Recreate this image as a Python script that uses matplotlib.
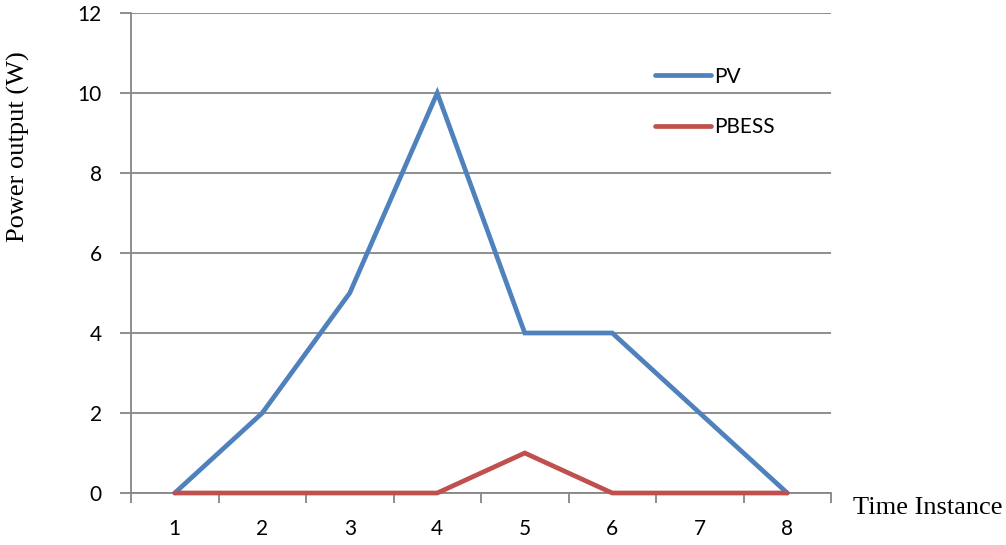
import matplotlib.pyplot as plt
import numpy as np

# 数据：时间点与功率输出
time_instances = [1, 2, 3, 4, 5, 6, 7, 8]
pv_power = [0, 2, 5, 10, 4, 4, 2, 0]
pbess_power = [0, 0, 0, 0, 1, 0, 0, 0]
y_ticks = [0, 2, 4, 6, 8, 10, 12]

grid_color = '#868686'
tick_font = 'Lato'
serif_font = 'Liberation Serif'

fig = plt.figure(figsize=(10.06, 5.45), dpi=100)
W, H = 1006, 545
ax = fig.add_axes([131 / W, 1 - 493 / H, 700 / W, 480 / H])

ax.plot(time_instances, pv_power, color='#4F81BD', linewidth=3.4,
        solid_capstyle='round', solid_joinstyle='miter', label='PV',
        zorder=4, clip_on=False)
ax.plot(time_instances, pbess_power, color='#C0504D', linewidth=3.4,
        solid_capstyle='round', solid_joinstyle='miter', label='PBESS',
        zorder=5, clip_on=False)

ax.set_xlim(0.5, 8.5)
ax.set_ylim(0, 12)

# 横轴：刻度线在类别之间，标签在类别中心
ax.set_xticks(np.arange(0.5, 9.0, 1.0))
ax.set_xticklabels([])
ax.set_xticks(time_instances, minor=True)
ax.set_xticklabels([str(t) for t in time_instances], minor=True,
                   fontsize=15, family=tick_font)
ax.tick_params(axis='x', which='major', direction='out', length=7,
               width=1.3, color=grid_color)
ax.tick_params(axis='x', which='minor', length=0, pad=19)

ax.set_yticks(y_ticks)
ax.set_yticklabels([str(v) for v in y_ticks], fontsize=15, family=tick_font)
ax.tick_params(axis='y', direction='out', length=8, width=1.3,
               color=grid_color, pad=13)

ax.yaxis.grid(True, color=grid_color, linewidth=1.3)
ax.set_axisbelow(True)

for side in ['top', 'right']:
    ax.spines[side].set_visible(False)
for side in ['left', 'bottom']:
    ax.spines[side].set_color(grid_color)
    ax.spines[side].set_linewidth(1.3)

ax.legend(loc='upper left', bbox_to_anchor=(0.749, 0.888), frameon=False,
          prop={'family': tick_font, 'size': 15}, handlelength=2.65,
          handletextpad=0.15, labelspacing=1.45, borderpad=0, borderaxespad=0)

fig.text(18 / W, 1 - 146.5 / H, 'Power output (W)', rotation=90,
         ha='center', va='center', fontsize=19, family=serif_font)
fig.text(853 / W, 1 - 508 / H, 'Time Instance', ha='left', va='center',
         fontsize=19, family=serif_font)

fig.savefig('out.png', dpi=100)
